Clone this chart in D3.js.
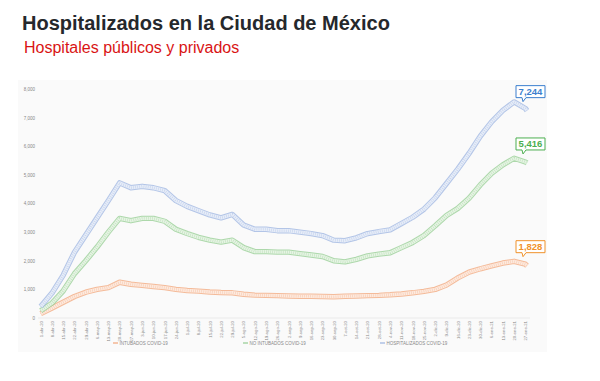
<!DOCTYPE html>
<html>
<head>
<meta charset="utf-8">
<script src="https://cdn.jsdelivr.net/npm/d3@7"></script>
<style>
  body { margin: 0; background: #fff; font-family: "Liberation Sans", Arial, sans-serif; }
  .tick text { fill: #888; }
</style>
</head>
<body>
<svg id="chart" width="600" height="381"></svg>
<script>
// weekly readings, Wednesdays from 1-abr-20 to 27-ene-21, plus last day 28-ene-21
var fechas = ["2020-04-01","2020-04-08","2020-04-15","2020-04-22","2020-04-29","2020-05-06","2020-05-13","2020-05-20","2020-05-27",
  "2020-06-03","2020-06-10","2020-06-17","2020-06-24","2020-07-01","2020-07-08","2020-07-15","2020-07-22","2020-07-29",
  "2020-08-05","2020-08-12","2020-08-19","2020-08-26","2020-09-02","2020-09-09","2020-09-16","2020-09-23","2020-09-30",
  "2020-10-07","2020-10-14","2020-10-21","2020-10-28","2020-11-04","2020-11-11","2020-11-18","2020-11-25","2020-12-02",
  "2020-12-09","2020-12-16","2020-12-23","2020-12-30","2021-01-06","2021-01-13","2021-01-20","2021-01-27","2021-01-28"];

var hospitalizados = [400,870,1500,2300,2900,3500,4100,4720,4550,4600,4550,4450,4100,3900,3750,3600,3500,3620,
  3250,3100,3100,3050,3050,3000,2950,2880,2720,2700,2800,2950,3020,3080,3300,3520,3800,4200,4700,5200,5750,6350,
  6850,7250,7550,7320,7244];
var noIntubados = [250,520,950,1550,2000,2480,3000,3480,3400,3480,3480,3380,3100,2950,2820,2720,2650,2720,
  2460,2320,2320,2300,2300,2250,2200,2150,2000,1960,2050,2170,2230,2280,2460,2640,2880,3220,3580,3830,4180,4650,
  5050,5350,5580,5450,5416];
var intubados = [150,350,550,750,900,1000,1060,1250,1180,1140,1100,1060,1000,960,940,910,890,880,
  830,800,790,780,770,760,760,750,740,760,770,780,790,810,840,880,930,1000,1150,1400,1600,1720,
  1820,1920,1980,1880,1828];

var series = [
  {name: "INTUBADOS COVID-19", values: intubados, line: "#f2a57a", fill: "#fdeadf", label: "#f0922b"},
  {name: "NO INTUBADOS COVID-19", values: noIntubados, line: "#93cc90", fill: "#e6f4e4", label: "#4caf50"},
  {name: "HOSPITALIZADOS COVID-19", values: hospitalizados, line: "#9bb3e0", fill: "#e7edf8", label: "#3c7fce"}
];
var yTicks = [0,1000,2000,3000,4000,5000,6000,7000,8000];

var es = d3.timeFormatLocale({
  dateTime: "%x, %X", date: "%d/%m/%Y", time: "%H:%M:%S", periods: ["AM","PM"],
  days: ["domingo","lunes","martes","miércoles","jueves","viernes","sábado"],
  shortDays: ["dom","lun","mar","mié","jue","vie","sáb"],
  months: ["enero","febrero","marzo","abril","mayo","junio","julio","agosto","septiembre","octubre","noviembre","diciembre"],
  shortMonths: ["ene","feb","mar","abr","may","jun","jul","ago","sep","oct","nov","dic"]
});
var fmtFecha = es.format("%-d-%b-%y");
var parse = d3.timeParse("%Y-%m-%d");
var dates = fechas.map(parse);

var svg = d3.select("#chart");

// titles
svg.append("text").attr("x", 22).attr("y", 30)
  .attr("font-size", 20).attr("font-weight", "bold").attr("fill", "#25282c")
  .text("Hospitalizados en la Ciudad de México");
svg.append("text").attr("x", 24).attr("y", 53)
  .attr("font-size", 16).attr("fill", "#d91414")
  .text("Hospitales públicos y privados");

// chart panel
svg.append("rect").attr("x", 18).attr("y", 80).attr("width", 529).attr("height", 272)
  .attr("fill", "#fafafa");

var x = d3.scaleTime().domain([dates[0], dates[dates.length - 1]]).range([40.7, 527]);
var y = d3.scaleLinear().domain([0, 8000]).range([318, 89]);

// y axis
var yAxis = svg.append("g").attr("transform", "translate(37,0)")
  .call(d3.axisLeft(y).tickValues(yTicks).tickFormat(d3.format(",")).tickSize(0).tickPadding(2));
yAxis.select(".domain").remove();
yAxis.selectAll("text").attr("font-size", 4.5).attr("font-family", "Liberation Sans, Arial, sans-serif");

// x baseline and weekly labels
svg.append("line").attr("x1", 38).attr("x2", 530).attr("y1", y(0)).attr("y2", y(0))
  .attr("stroke", "#e6e6e6").attr("stroke-width", 0.8);

var xAxis = svg.append("g").attr("transform", "translate(0," + y(0) + ")")
  .call(d3.axisBottom(x).tickValues(dates.slice(0, 44)).tickFormat(fmtFecha).tickSize(0).tickPadding(3));
xAxis.select(".domain").remove();
xAxis.selectAll("text")
  .attr("font-size", 4.3).attr("font-family", "Liberation Sans, Arial, sans-serif")
  .attr("text-anchor", "end").attr("dx", "-3").attr("dy", "0.32em")
  .attr("y", 0).attr("x", 0)
  .attr("transform", "rotate(-90)");

// series as bands (outlined marker look)
var line = d3.line().x(function(d, i) { return x(dates[i]); }).y(function(d) { return y(d); });

series.forEach(function(s) {
  svg.append("path").attr("d", line(s.values))
    .attr("fill", "none").attr("stroke", s.line).attr("stroke-width", 5.4)
    .attr("stroke-linejoin", "round").attr("opacity", 0.75);
  svg.append("path").attr("d", line(s.values))
    .attr("fill", "none").attr("stroke", s.fill).attr("stroke-width", 3.4)
    .attr("stroke-linejoin", "round");
  svg.append("path").attr("d", line(s.values))
    .attr("fill", "none").attr("stroke", s.line).attr("stroke-width", 2.6)
    .attr("stroke-dasharray", "0.5,1.6").attr("opacity", 0.55);
});

// end value callouts
series.forEach(function(s) {
  var last = s.values[s.values.length - 1];
  var px = x(dates[dates.length - 1]), py = y(last);
  var g = svg.append("g").attr("transform", "translate(" + (px - 11) + "," + (py - 25) + ")");
  g.append("path")
    .attr("d", "M0,0 H29 V12 H10 L7,16 L6,12 H0 Z")
    .attr("fill", "#fff").attr("stroke", s.label).attr("stroke-width", 1);
  g.append("text").attr("x", 14.5).attr("y", 9.5).attr("text-anchor", "middle")
    .attr("font-size", 9.5).attr("font-weight", "bold").attr("fill", s.label)
    .text(d3.format(",")(last));
});

// legend
var legX = [113, 243, 380];
series.forEach(function(s, i) {
  var g = svg.append("g").attr("transform", "translate(" + legX[i] + ",343)");
  g.append("line").attr("x1", 0).attr("x2", 5).attr("stroke", s.line).attr("stroke-width", 1.2);
  g.append("text").attr("x", 6.5).attr("y", 1.6).attr("font-size", 4.5).attr("fill", "#888")
    .text(s.name);
});
</script>
</body>
</html>
